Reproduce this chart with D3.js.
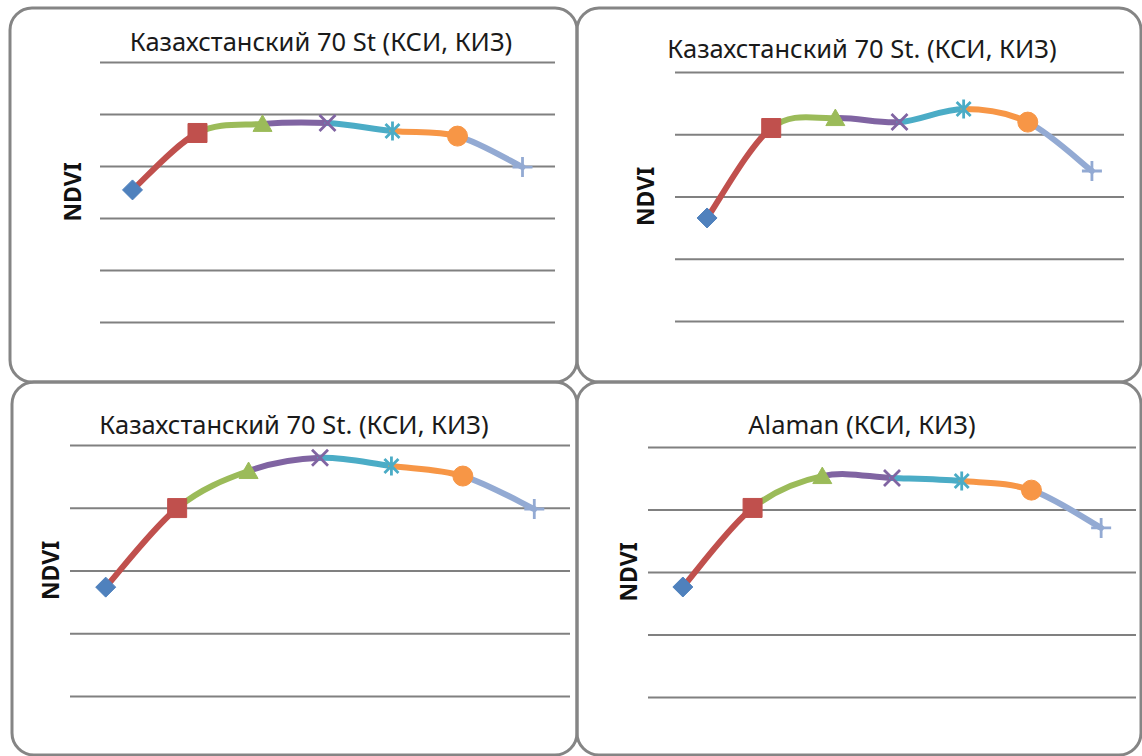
<!DOCTYPE html>
<html>
<head>
<meta charset="utf-8">
<script src="https://cdn.jsdelivr.net/npm/d3@7"></script>
<style>
  body { margin: 0; background: #fff; }
  svg { display: block; }
</style>
</head>
<body>
<svg id="chart" width="1142" height="756"></svg>
<script>
// Growth stages along the x axis (their labels are hidden on the charts)
const stages = ["I", "II", "III", "IV", "V", "VI", "VII"];

const titles = [
  "Казахстанский 70 St (КСИ, КИЗ)",
  "Казахстанский 70 St. (КСИ, КИЗ)",
  "Казахстанский 70 St. (КСИ, КИЗ)",
  "Alaman (КСИ, КИЗ)"
];
const yLabel = "NDVI";

// NDVI by stage for each chart
const ndviA = [0.508, 0.727, 0.762, 0.765, 0.735, 0.715, 0.596];
const ndviB = [0.331, 0.620, 0.652, 0.639, 0.681, 0.639, 0.482];
const ndviC = [0.347, 0.599, 0.717, 0.759, 0.733, 0.701, 0.596];
const ndviD = [0.352, 0.605, 0.707, 0.701, 0.691, 0.662, 0.541];

// Gridline values
const gridA = [0, 0.2, 0.4, 0.6, 0.8, 1.0];
const gridB = [0, 0.2, 0.4, 0.6, 0.8];

// One colour and marker per stage
const stageColors = ["#4F81BD", "#C0504D", "#9BBB59", "#8064A2", "#4BACC6", "#F79646", "#93AAD3"];
const stageMarkers = ["diamond", "square", "triangle", "x", "asterisk", "circle", "plus"];

// Frame, plot area and text placement of each chart
const panels = [
  { values: ndviA, grid: gridA, title: titles[0], box: [10, 8, 577, 382],  plot: [100, 555, 62, 322],  tx: 321, ty: 51,  lx: 72 },
  { values: ndviB, grid: gridB, title: titles[1], box: [577, 8, 1141, 382], plot: [675, 1124, 72, 321], tx: 862, ty: 58,  lx: 645 },
  { values: ndviC, grid: gridB, title: titles[2], box: [12, 382, 577, 755], plot: [70, 570, 445, 696],  tx: 294, ty: 434, lx: 50 },
  { values: ndviD, grid: gridB, title: titles[3], box: [577, 382, 1141, 755], plot: [648, 1136, 447, 697], tx: 862, ty: 434, lx: 628 }
];

const svg = d3.select("#chart");

// Frames first, so that the four rounded corners meet in the middle
panels.forEach(p => {
  const [x0, y0, x1, y1] = p.box;
  svg.append("rect")
    .attr("x", x0).attr("y", y0)
    .attr("width", x1 - x0).attr("height", y1 - y0)
    .attr("rx", 22).attr("ry", 22)
    .attr("fill", "none")
    .attr("stroke", "#858585")
    .attr("stroke-width", 3);
});

function markerPath(type) {
  switch (type) {
    case "diamond":  return "M0,-10L10,0L0,10L-10,0Z";
    case "square":   return "M-9.5,-9.5H9.5V9.5H-9.5Z";
    case "triangle": return "M0,-9L9.5,7.5H-9.5Z";
    case "circle":   return d3.symbol(d3.symbolCircle, Math.PI * 100)();
    case "x":        return "M-8,-8L8,8M-8,8L8,-8";
    case "asterisk": return "M-7,-7L7,7M-7,7L7,-7M0,-9.5V9.5";
    case "plus":     return "M-10,0H10M0,-10V10";
  }
}
const strokedMarker = t => t === "x" || t === "asterisk" || t === "plus";

panels.forEach(p => {
  const [left, right, top, bottom] = p.plot;
  const x = d3.scaleBand().domain(stages).range([left, right]);
  const y = d3.scaleLinear().domain([d3.min(p.grid), d3.max(p.grid)]).range([bottom, top]);
  const g = svg.append("g");

  // Horizontal gridlines
  const grid = g.append("g")
    .attr("transform", `translate(${left},0)`)
    .call(d3.axisLeft(y).tickValues(p.grid).tickSize(-(right - left)).tickFormat(""));
  grid.select(".domain").remove();
  grid.selectAll(".tick line").attr("stroke", "#808080").attr("stroke-width", 1.8);

  // Title and axis label
  g.append("text")
    .attr("x", p.tx).attr("y", p.ty)
    .attr("text-anchor", "middle")
    .attr("font-family", "'Noto Sans', 'Open Sans', sans-serif")
    .attr("font-size", 25.5)
    .attr("fill", "#1a1a1a")
    .text(p.title);

  g.append("text")
    .attr("transform", `translate(${p.lx},${(top + bottom) / 2}) rotate(-90)`)
    .attr("text-anchor", "middle")
    .attr("dominant-baseline", "central")
    .attr("font-family", "'Noto Sans', 'Open Sans', sans-serif")
    .attr("font-weight", "bold")
    .attr("font-size", 23)
    .attr("fill", "#111")
    .text(yLabel);

  const pts = p.values.map((v, i) => [x(stages[i]) + x.bandwidth() / 2, y(v)]);
  const n = pts.length;
  const at = i => pts[Math.max(0, Math.min(n - 1, i))];

  // Smoothed line, each segment coloured like the stage it leads to
  for (let i = 1; i < n; i++) {
    const p0 = at(i - 2), p1 = at(i - 1), p2 = at(i), p3 = at(i + 1);
    const c1 = [p1[0] + (p2[0] - p0[0]) / 6, p1[1] + (p2[1] - p0[1]) / 6];
    const c2 = [p2[0] - (p3[0] - p1[0]) / 6, p2[1] - (p3[1] - p1[1]) / 6];
    const path = d3.path();
    path.moveTo(p1[0], p1[1]);
    path.bezierCurveTo(c1[0], c1[1], c2[0], c2[1], p2[0], p2[1]);
    g.append("path")
      .attr("d", path.toString())
      .attr("fill", "none")
      .attr("stroke", stageColors[i])
      .attr("stroke-width", 6)
      .attr("stroke-linecap", "round");
  }

  // Stage markers
  pts.forEach((pt, i) => {
    const t = stageMarkers[i];
    g.append("path")
      .attr("transform", `translate(${pt[0]},${pt[1]})`)
      .attr("d", markerPath(t))
      .attr("fill", strokedMarker(t) ? "none" : stageColors[i])
      .attr("stroke", stageColors[i])
      .attr("stroke-width", strokedMarker(t) ? 2.8 : 1);
  });
});
</script>
</body>
</html>
